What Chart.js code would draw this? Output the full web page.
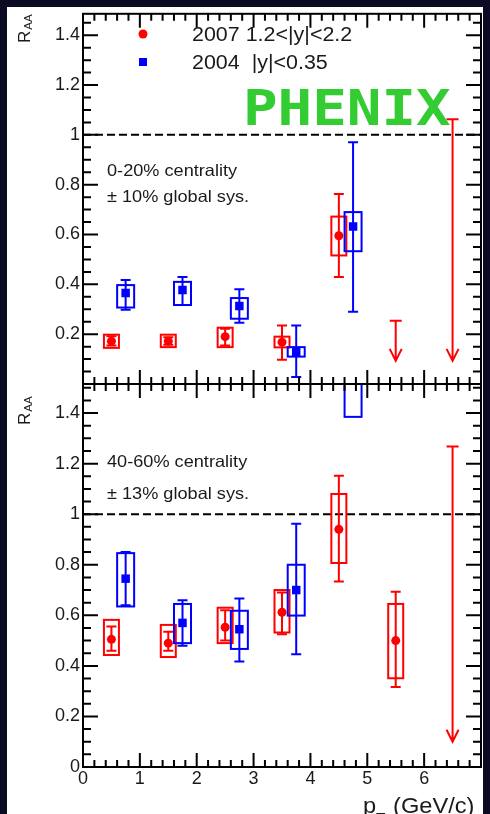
<!DOCTYPE html>
<html>
<head>
<meta charset="utf-8">
<script src="https://cdn.jsdelivr.net/npm/chart.js@4.4.1/dist/chart.umd.min.js"></script>
<style>
  html, body { margin: 0; padding: 0; background: #0b0b24; }
  #page { position: relative; width: 490px; height: 814px; overflow: hidden; }
  #sheet { position: absolute; left: 7px; top: 7px; width: 476px; height: 807px; background: #fff; }
  canvas { position: absolute; left: 0; top: 0; }
</style>
</head>
<body>
<div id="page">
  <div id="sheet"></div>
  <canvas id="central" width="490" height="814"></canvas>
  <canvas id="peripheral" width="490" height="814"></canvas>
</div>
<script>
// J/psi R_AA vs pT, two centrality bins

const xTicks = [0, 1, 2, 3, 4, 5, 6];
const yTicksCentral = [0.2, 0.4, 0.6, 0.8, 1, 1.2, 1.4];
const yTicksPeripheral = [0, 0.2, 0.4, 0.6, 0.8, 1, 1.2, 1.4];

const legendLabels = ['2007 1.2<|y|<2.2', '2004  |y|<0.35'];

// 0-20% centrality, 2007 forward
const fwdPtC     = [0.5, 1.5, 2.5, 3.5, 4.5];
const fwdRaaC    = [0.172, 0.172, 0.19, 0.168, 0.595];
const fwdStatLoC = [0.155, 0.158, 0.155, 0.097, 0.43];
const fwdStatHiC = [0.192, 0.188, 0.222, 0.235, 0.763];
const fwdSysLoC  = [0.145, 0.148, 0.148, 0.147, 0.516];
const fwdSysHiC  = [0.198, 0.198, 0.226, 0.19, 0.672];
const fwdLimPtC  = [5.5, 6.5];
const fwdLimC    = [0.254, 1.063];
const fwdLimTipC = [0.093, 0.093];

// 0-20% centrality, 2004 mid-rapidity
const midPtC     = [0.75, 1.75, 2.75, 3.75, 4.75];
const midRaaC    = [0.365, 0.377, 0.313, 0.128, 0.632];
const midStatLoC = [0.298, 0.317, 0.246, 0.028, 0.29];
const midStatHiC = [0.417, 0.43, 0.38, 0.235, 0.97];
const midSysLoC  = [0.307, 0.317, 0.262, 0.11, 0.533];
const midSysHiC  = [0.397, 0.41, 0.345, 0.148, 0.69];

// 40-60% centrality, 2007 forward
const fwdPtP     = [0.5, 1.5, 2.5, 3.5, 4.5, 5.5];
const fwdRaaP    = [0.505, 0.49, 0.553, 0.612, 0.94, 0.5];
const fwdStatLoP = [0.46, 0.46, 0.5, 0.525, 0.734, 0.316];
const fwdStatHiP = [0.556, 0.535, 0.62, 0.69, 1.152, 0.693];
const fwdSysLoP  = [0.443, 0.435, 0.49, 0.532, 0.807, 0.351];
const fwdSysHiP  = [0.582, 0.562, 0.63, 0.70, 1.08, 0.645];
const fwdLimPtP  = [6.5];
const fwdLimP    = [1.268];
const fwdLimTipP = [0.1];

// 40-60% centrality, 2004 mid-rapidity
const midPtP     = [0.75, 1.75, 2.75, 3.75, 4.75];
const midRaaP    = [0.745, 0.57, 0.545, 0.70, 1.75];
const midStatLoP = [0.64, 0.48, 0.417, 0.446, 1.6];
const midStatHiP = [0.85, 0.66, 0.667, 0.962, 1.9];
const midSysLoP  = [0.635, 0.49, 0.467, 0.599, 1.385];
const midSysHiP  = [0.846, 0.645, 0.618, 0.80, 2.1];

const RED = '#ff0000';
const BLUE = '#0000ff';
const SANS = "'Liberation Sans', Arial, sans-serif";
const TEXT = '#1a1a1a';

// horizontally widened text, like the original ROOT output
function wideText(ctx, text, x, y, font, sx) {
  ctx.save();
  ctx.font = font;
  ctx.translate(x, y);
  ctx.scale(sx, 1);
  ctx.fillText(text, 0, 0);
  ctx.restore();
}

function drawSeries(ctx, xs, ys, s) {
  ctx.strokeStyle = s.color;
  ctx.lineWidth = 2;
  s.pt.forEach((pt, i) => {
    const px = xs.getPixelForValue(pt);
    // systematic box
    const top = ys.getPixelForValue(s.sysHi[i]);
    const bot = ys.getPixelForValue(s.sysLo[i]);
    ctx.strokeRect(px - s.boxHalf, top, 2 * s.boxHalf, bot - top);
    // statistical bar with caps
    const hi = ys.getPixelForValue(s.statHi[i]);
    const lo = ys.getPixelForValue(s.statLo[i]);
    ctx.beginPath();
    ctx.moveTo(px, hi); ctx.lineTo(px, lo);
    ctx.moveTo(px - 5, hi); ctx.lineTo(px + 5, hi);
    ctx.moveTo(px - 5, lo); ctx.lineTo(px + 5, lo);
    ctx.stroke();
  });
}

function drawLimits(ctx, xs, ys, pts, vals, tips) {
  ctx.strokeStyle = RED;
  ctx.lineWidth = 2;
  pts.forEach((pt, i) => {
    const px = xs.getPixelForValue(pt);
    const top = ys.getPixelForValue(vals[i]);
    const tip = ys.getPixelForValue(tips[i]);
    ctx.beginPath();
    ctx.moveTo(px - 6, top); ctx.lineTo(px + 6, top);
    ctx.moveTo(px, top); ctx.lineTo(px, tip);
    ctx.moveTo(px - 6, tip - 12); ctx.lineTo(px, tip); ctx.lineTo(px + 6, tip - 12);
    ctx.stroke();
  });
}

function drawFrame(ctx, a, xs, ys) {
  ctx.strokeStyle = '#000';
  ctx.lineWidth = 2;
  ctx.strokeRect(a.left, a.top, a.right - a.left, a.bottom - a.top);
  ctx.beginPath();
  // y ticks every 0.05, major every 0.2
  for (let k = 0; k * 0.05 <= ys.max + 1e-9; k++) {
    const py = ys.getPixelForValue(k * 0.05);
    const len = k % 4 === 0 ? 15 : 8;
    ctx.moveTo(a.left, py); ctx.lineTo(a.left + len, py);
    ctx.moveTo(a.right, py); ctx.lineTo(a.right - len, py);
  }
  // x ticks every 0.2, major every 1
  for (let k = 0; k * 0.2 <= xs.max + 1e-9; k++) {
    const px = xs.getPixelForValue(k * 0.2);
    const len = k % 5 === 0 ? 14 : 7;
    ctx.moveTo(px, a.bottom); ctx.lineTo(px, a.bottom - len);
    ctx.moveTo(px, a.top); ctx.lineTo(px, a.top + len);
  }
  ctx.stroke();
}

function drawRaaTitle(ctx, x, y) {
  ctx.save();
  ctx.fillStyle = TEXT;
  ctx.translate(x, y);
  ctx.rotate(-Math.PI / 2);
  ctx.font = '17px ' + SANS;
  ctx.fillText('R', 0, 0);
  const w = ctx.measureText('R').width;
  ctx.font = '11.5px ' + SANS;
  ctx.fillText('AA', w + 1, 2);
  ctx.restore();
}

function decor(p) {
  return {
    id: 'decor_' + p.id,
    beforeDatasetsDraw(chart) {
      const { ctx, chartArea: a, scales: { x, y } } = chart;
      ctx.save();
      ctx.beginPath();
      ctx.rect(a.left, a.top, a.right - a.left, a.bottom - a.top);
      ctx.clip();
      // unity line
      const y1 = y.getPixelForValue(1);
      ctx.strokeStyle = '#000';
      ctx.lineWidth = 2;
      ctx.setLineDash([8, 4]);
      ctx.beginPath();
      ctx.moveTo(a.left, y1); ctx.lineTo(a.right, y1);
      ctx.stroke();
      ctx.setLineDash([]);
      p.series.forEach(s => drawSeries(ctx, x, y, s));
      drawLimits(ctx, x, y, p.limPt, p.lim, p.limTip);
      ctx.restore();
    },
    afterDraw(chart) {
      const { ctx, chartArea: a, scales: { x, y } } = chart;
      ctx.save();
      drawFrame(ctx, a, x, y);
      ctx.fillStyle = TEXT;
      ctx.textAlign = 'left';
      ctx.textBaseline = 'alphabetic';
      wideText(ctx, p.notes[0], 107, p.noteY[0], '16.5px ' + SANS, 1.1);
      wideText(ctx, p.notes[1], 107, p.noteY[1], '16.5px ' + SANS, 1.1);
      drawRaaTitle(ctx, 30, p.titleY);
      if (p.withLegend) {
        ctx.fillStyle = RED;
        ctx.beginPath(); ctx.arc(143, 34, 4.5, 0, Math.PI * 2); ctx.fill();
        ctx.fillStyle = BLUE;
        ctx.fillRect(139, 58, 8, 8);
        ctx.fillStyle = TEXT;
        wideText(ctx, legendLabels[0], 192, 41, '19.5px ' + SANS, 1.1);
        wideText(ctx, legendLabels[1], 192, 69, '19.5px ' + SANS, 1.1);
        ctx.fillStyle = '#33cc33';
        wideText(ctx, 'PHENIX', 243, 125, "bold 50px 'DejaVu Sans Mono', monospace", 1.15);
      }
      if (p.withXTitle) {
        wideText(ctx, 'p', 363, 813, '21.5px ' + SANS, 1.1);
        wideText(ctx, 'T', 376, 823, '14px ' + SANS, 1.1);
        wideText(ctx, '(GeV/c)', 393, 813, '21.5px ' + SANS, 1.1);
      }
      ctx.restore();
    }
  };
}

function buildPanel(p) {
  const fwd = p.series[0], mid = p.series[1];
  return new Chart(document.getElementById(p.id), {
    type: 'scatter',
    data: {
      datasets: [
        {
          data: fwd.pt.map((v, i) => ({ x: v, y: fwd.raa[i] })),
          pointStyle: 'circle', pointRadius: 4.5, pointBorderWidth: 0,
          backgroundColor: RED, borderColor: RED
        },
        {
          data: mid.pt.map((v, i) => ({ x: v, y: mid.raa[i] })),
          pointStyle: 'rect', pointRadius: 6, pointBorderWidth: 0,
          backgroundColor: BLUE, borderColor: BLUE
        }
      ]
    },
    options: {
      responsive: false,
      animation: false,
      events: [],
      layout: { padding: p.padding },
      plugins: { legend: { display: false }, tooltip: { enabled: false } },
      scales: {
        x: {
          type: 'linear', min: 0, max: 7,
          display: p.withXTitle,
          grid: { display: false, drawTicks: false },
          border: { display: false },
          afterBuildTicks: s => { s.ticks = xTicks.map(v => ({ value: v })); },
          afterFit: s => { s.height = p.withXTitle ? 47 : 0; },
          ticks: { callback: v => String(v), font: { family: SANS, size: 18 }, color: TEXT, padding: 1, maxRotation: 0 }
        },
        y: {
          type: 'linear', min: 0, max: p.yMax,
          grid: { display: false, drawTicks: false },
          border: { display: false },
          afterBuildTicks: s => { s.ticks = p.yTicks.map(v => ({ value: v })); },
          afterFit: s => { s.width = 83; },
          ticks: { callback: v => String(v), font: { family: SANS, size: 18 }, color: TEXT, padding: 3 }
        }
      }
    },
    plugins: [decor(p)]
  });
}

buildPanel({
  id: 'central',
  yMax: 1.486,
  yTicks: yTicksCentral,
  padding: { top: 11, right: 9, bottom: 430, left: 0 },
  series: [
    { pt: fwdPtC, raa: fwdRaaC, statLo: fwdStatLoC, statHi: fwdStatHiC, sysLo: fwdSysLoC, sysHi: fwdSysHiC, color: RED, boxHalf: 7.5 },
    { pt: midPtC, raa: midRaaC, statLo: midStatLoC, statHi: midStatHiC, sysLo: midSysLoC, sysHi: midSysHiC, color: BLUE, boxHalf: 8.5 }
  ],
  limPt: fwdLimPtC, lim: fwdLimC, limTip: fwdLimTipC,
  notes: ['0-20% centrality', '\u00b1 10% global sys.'],
  noteY: [176, 202],
  titleY: 43,
  withLegend: true,
  withXTitle: false
});

buildPanel({
  id: 'peripheral',
  yMax: 1.515,
  yTicks: yTicksPeripheral,
  padding: { top: 384, right: 9, bottom: 0, left: 0 },
  series: [
    { pt: fwdPtP, raa: fwdRaaP, statLo: fwdStatLoP, statHi: fwdStatHiP, sysLo: fwdSysLoP, sysHi: fwdSysHiP, color: RED, boxHalf: 7.5 },
    { pt: midPtP, raa: midRaaP, statLo: midStatLoP, statHi: midStatHiP, sysLo: midSysLoP, sysHi: midSysHiP, color: BLUE, boxHalf: 8.5 }
  ],
  limPt: fwdLimPtP, lim: fwdLimP, limTip: fwdLimTipP,
  notes: ['40-60% centrality', '\u00b1 13% global sys.'],
  noteY: [467, 499],
  titleY: 425,
  withLegend: false,
  withXTitle: true
});
</script>
</body>
</html>
